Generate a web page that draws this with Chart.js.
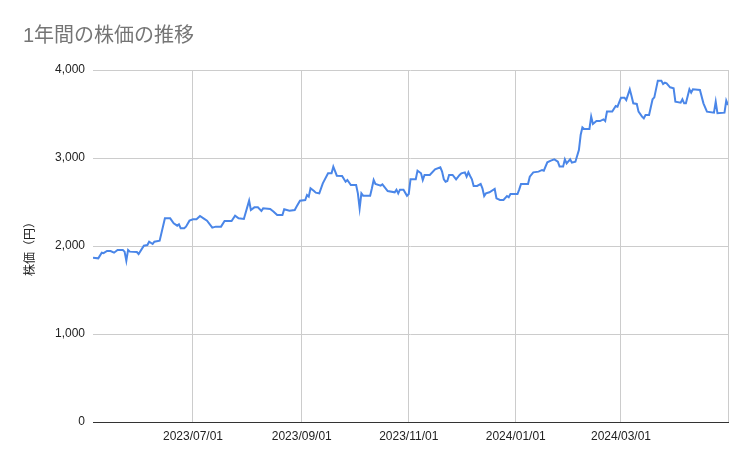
<!DOCTYPE html>
<html>
<head>
<meta charset="utf-8">
<script src="https://cdn.jsdelivr.net/npm/chart.js@4"></script>
<style>
  body { margin: 0; background: #fff; }
  #wrap { width: 753px; height: 466px; }
</style>
</head>
<body>
<div id="wrap"><canvas id="chart" width="753" height="466"></canvas></div>
<script>
// 日付と株価
const dates = [
  '2023-05-05','2023-05-08','2023-05-10','2023-05-11','2023-05-13','2023-05-15','2023-05-17','2023-05-19','2023-05-22','2023-05-23',
  '2023-05-24','2023-05-25','2023-05-26','2023-05-30','2023-05-31','2023-06-03','2023-06-05','2023-06-06','2023-06-08','2023-06-09',
  '2023-06-12','2023-06-15','2023-06-18','2023-06-20','2023-06-22','2023-06-23','2023-06-24','2023-06-26','2023-06-27','2023-06-29',
  '2023-07-01','2023-07-03','2023-07-05','2023-07-07','2023-07-09','2023-07-12','2023-07-14','2023-07-17','2023-07-19','2023-07-23',
  '2023-07-25','2023-07-27','2023-07-30','2023-08-02','2023-08-03','2023-08-05','2023-08-07','2023-08-09','2023-08-10','2023-08-14',
  '2023-08-16','2023-08-18','2023-08-21','2023-08-22','2023-08-25','2023-08-28','2023-08-29','2023-08-31','2023-09-03','2023-09-04',
  '2023-09-05','2023-09-06','2023-09-08','2023-09-09','2023-09-11','2023-09-13','2023-09-16','2023-09-18','2023-09-19','2023-09-21',
  '2023-09-24','2023-09-26','2023-09-27','2023-09-29','2023-10-02','2023-10-03','2023-10-04','2023-10-05','2023-10-06','2023-10-10',
  '2023-10-11','2023-10-12','2023-10-13','2023-10-16','2023-10-17','2023-10-20','2023-10-24','2023-10-25','2023-10-26','2023-10-27',
  '2023-10-29','2023-10-31','2023-11-01','2023-11-02','2023-11-05','2023-11-06','2023-11-08','2023-11-09','2023-11-10','2023-11-13',
  '2023-11-16','2023-11-19','2023-11-20','2023-11-21','2023-11-22','2023-11-23','2023-11-24','2023-11-26','2023-11-28','2023-11-30',
  '2023-12-01','2023-12-03','2023-12-04','2023-12-05','2023-12-06','2023-12-07','2023-12-08','2023-12-10','2023-12-12','2023-12-13',
  '2023-12-14','2023-12-15','2023-12-17','2023-12-20','2023-12-21','2023-12-23','2023-12-25','2023-12-27','2023-12-28','2023-12-29',
  '2024-01-02','2024-01-03','2024-01-04','2024-01-08','2024-01-09','2024-01-11','2024-01-14','2024-01-16','2024-01-17','2024-01-19',
  '2024-01-21','2024-01-23','2024-01-25','2024-01-26','2024-01-28','2024-01-29','2024-01-30','2024-02-01','2024-02-02','2024-02-04',
  '2024-02-06','2024-02-07','2024-02-08','2024-02-09','2024-02-12','2024-02-13','2024-02-14','2024-02-16','2024-02-18','2024-02-20',
  '2024-02-21','2024-02-22','2024-02-25','2024-02-27','2024-02-28','2024-03-01','2024-03-03','2024-03-04','2024-03-06','2024-03-07',
  '2024-03-08','2024-03-10','2024-03-11','2024-03-13','2024-03-14','2024-03-15','2024-03-17','2024-03-19','2024-03-20','2024-03-22',
  '2024-03-24','2024-03-25','2024-03-26','2024-03-27','2024-03-29','2024-03-31','2024-04-01','2024-04-04','2024-04-05','2024-04-06',
  '2024-04-07','2024-04-09','2024-04-10','2024-04-11','2024-04-15','2024-04-17','2024-04-19','2024-04-23','2024-04-24','2024-04-25',
  '2024-04-29','2024-04-30','2024-05-01'
];
const prices = [
  1867,1860,1924,1918,1943,1943,1924,1955,1955,1936,
  1833,1955,1936,1932,1909,2004,2011,2049,2023,2049,
  2061,2314,2314,2258,2231,2246,2201,2201,2220,2288,
  2303,2303,2341,2314,2288,2209,2220,2220,2284,2284,
  2345,2314,2307,2515,2409,2439,2439,2398,2428,2420,
  2390,2352,2352,2417,2401,2409,2447,2515,2523,2580,
  2561,2656,2625,2606,2598,2712,2826,2826,2902,2799,
  2795,2731,2750,2693,2693,2598,2428,2598,2572,2572,
  2656,2750,2705,2686,2701,2625,2610,2640,2598,2640,
  2640,2570,2591,2758,2758,2856,2826,2750,2807,2807,
  2871,2894,2845,2758,2731,2739,2807,2807,2758,2807,
  2826,2837,2788,2837,2795,2758,2682,2682,2705,2655,
  2568,2598,2610,2648,2542,2523,2523,2568,2553,2591,
  2591,2644,2705,2705,2788,2837,2845,2864,2856,2951,
  2970,2985,2958,2902,2902,2985,2939,2985,2947,2958,
  3091,3261,3348,3330,3330,3470,3386,3420,3420,3439,
  3420,3527,3527,3591,3583,3686,3686,3659,3780,3705,
  3621,3614,3527,3470,3451,3489,3489,3667,3689,3879,
  3879,3841,3856,3848,3803,3792,3640,3629,3667,3621,
  3621,3780,3742,3780,3773,3621,3527,3515,3640,3508,
  3515,3652,3602
];
const tickDates = ['2023-07-01','2023-09-01','2023-11-01','2024-01-01','2024-03-01','2024-05-01'];
const tickLabels = ['2023/07/01','2023/09/01','2023/11/01','2024/01/01','2024/03/01',''];
const yTicks = [0, 1000, 2000, 3000, 4000];

const FONT = "'Liberation Sans', Arial, 'Noto Sans CJK JP', sans-serif";

// 日付文字列 -> 通日
function dayNum(s) {
  const p = s.split('-').map(Number);
  return Date.UTC(p[0], p[1] - 1, p[2]) / 86400000;
}

const points = dates.map((d, i) => ({ x: dayNum(d), y: prices[i] }));
const tickDays = tickDates.map(dayNum);

const ctx = document.getElementById('chart').getContext('2d');
const chart = new Chart(ctx, {
  type: 'line',
  data: {
    datasets: [{
      label: '株価',
      data: points,
      borderColor: '#4a86e8',
      borderWidth: 2,
      pointRadius: 0,
      tension: 0,
      fill: false
    }]
  },
  options: {
    responsive: false,
    animation: false,
    layout: { padding: { left: 23, right: 25, top: 0, bottom: 0 } },
    plugins: {
      legend: { display: false },
      tooltip: { enabled: false },
      title: {
        display: true,
        text: '1年間の株価の推移',
        align: 'start',
        color: '#757575',
        font: { family: FONT, size: 20, weight: 'normal' },
        padding: { top: 24, bottom: 22 }
      }
    },
    scales: {
      x: {
        type: 'linear',
        min: dayNum(dates[0]),
        max: tickDays[tickDays.length - 1],
        afterBuildTicks: function(scale) {
          scale.ticks = tickDays.map(v => ({ value: v }));
        },
        afterFit: function(scale) {
          scale.height = 44;
        },
        grid: { color: '#cccccc', drawTicks: false },
        border: { display: true, color: '#333333' },
        ticks: {
          autoSkip: false,
          maxRotation: 0,
          padding: 7,
          color: '#222222',
          font: { family: FONT, size: 12 },
          callback: function(value) {
            const i = tickDays.indexOf(value);
            return i >= 0 ? tickLabels[i] : '';
          }
        }
      },
      y: {
        min: 0,
        max: 4000,
        afterBuildTicks: function(scale) {
          scale.ticks = yTicks.map(v => ({ value: v }));
        },
        afterFit: function(scale) {
          scale.width = 70;
        },
        grid: {
          drawTicks: false,
          color: c => c.tick && c.tick.value === 0 ? '#333333' : '#cccccc'
        },
        border: { display: false },
        ticks: {
          padding: 8,
          color: '#222222',
          font: { family: FONT, size: 12 },
          callback: v => v.toLocaleString('en-US')
        },
        title: {
          display: true,
          text: '株価（円）',
          color: '#222222',
          font: { family: FONT, size: 12 },
          padding: { top: 0, bottom: 0 }
        }
      }
    }
  }
});
</script>
</body>
</html>
